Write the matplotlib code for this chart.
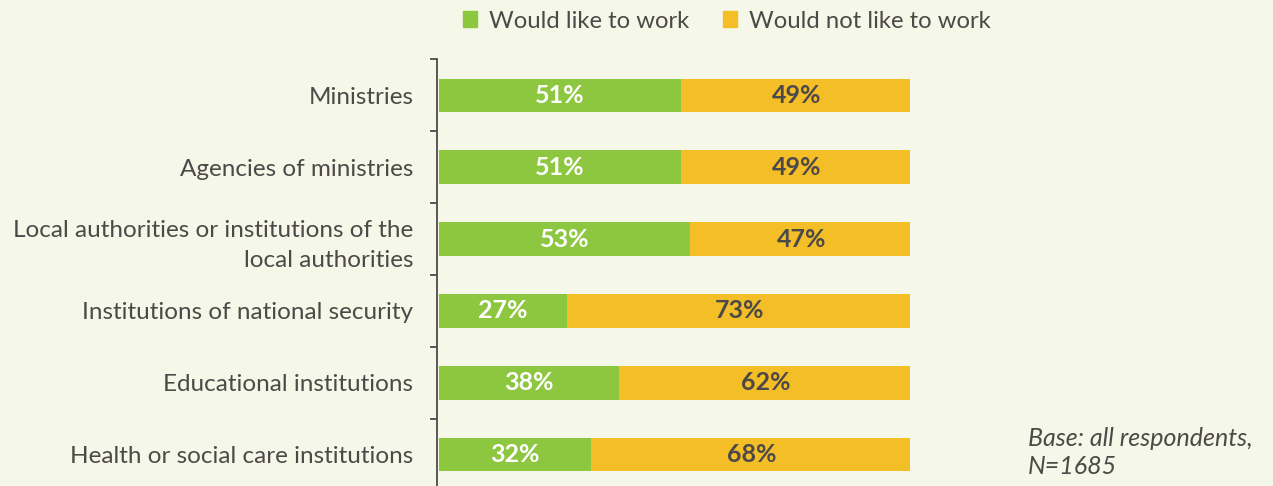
import matplotlib.pyplot as plt
from matplotlib.patches import Patch
import numpy as np

categories = [
    "Ministries",
    "Agencies of ministries",
    "Local authorities or institutions of the\nlocal authorities",
    "Institutions of national security",
    "Educational institutions",
    "Health or social care institutions",
]
would_like = [51, 51, 53, 27, 38, 32]
would_not = [49, 49, 47, 73, 62, 68]
series_names = ["Would like to work", "Would not like to work"]

BG = "#F5F8E8"
GREEN = "#8DC63F"
YELLOW = "#F4BE27"
TEXT = "#4D4948"

plt.rcParams["font.family"] = ["Lato", "DejaVu Sans"]

W, H = 1273, 486
fig = plt.figure(figsize=(W / 100, H / 100), dpi=100, facecolor=BG)
# axes: left spine at x=437px, 100% at 910px, rows from y=59.5 to y=490.5
ax = fig.add_axes([437 / W, 1 - 490.5 / H, (910 - 437) / W, 431 / H])
ax.set_facecolor(BG)

y = np.arange(len(categories))
bh = 0.47
ax.barh(y, would_like, height=bh, color=GREEN, left=0.5)
ax.barh(y, would_not, height=bh, color=YELLOW, left=np.array(would_like) + 0.5)

for i in range(len(categories)):
    ax.text(would_like[i] / 2 + 0.5, y[i], f"{would_like[i]}%", ha="center", va="center",
            color="white", fontsize=18, fontweight="bold")
    ax.text(would_like[i] + would_not[i] / 2 + 0.5, y[i], f"{would_not[i]}%", ha="center",
            va="center", color=TEXT, fontsize=18, fontweight="bold")

ax.set_xlim(0, 100)
ax.set_ylim(len(categories) - 0.5, -0.5)
ax.set_yticks(y)
ax.set_yticklabels(categories, fontsize=17.5, color=TEXT, ha="right", linespacing=1.55)
ax.tick_params(axis="y", which="major", length=0, pad=17)
ax.set_yticks(np.arange(len(categories) + 1) - 0.5, minor=True)
ax.tick_params(axis="y", which="minor", length=5, width=1.3, color=TEXT, direction="out")
ax.set_xticks([])
for s in ["top", "right", "bottom"]:
    ax.spines[s].set_visible(False)
ax.spines["left"].set_color(TEXT)
ax.spines["left"].set_linewidth(1.3)

handles = [Patch(color=GREEN), Patch(color=YELLOW)]
fig.legend(handles, series_names, loc="center", bbox_to_anchor=(727 / W, 1 - 21 / H),
           ncol=2, frameon=False, fontsize=17.2, labelcolor=TEXT,
           handlelength=0.6, handleheight=0.6, handletextpad=0.5, columnspacing=1.4)

fig.text(1028 / W, 1 - 438 / H, "Base: all respondents,", fontsize=18, style="italic",
         color=TEXT, ha="left", va="center")
fig.text(1028 / W, 1 - 466 / H, "N=1685", fontsize=18, style="italic",
         color=TEXT, ha="left", va="center")

fig.savefig("out.png", dpi=100, facecolor=BG)
